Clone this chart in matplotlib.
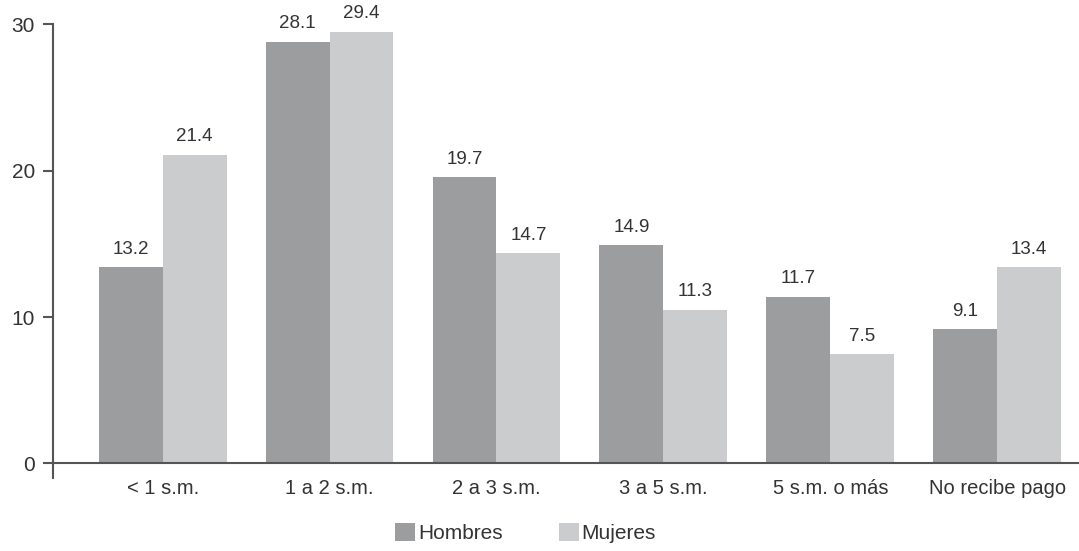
import matplotlib
matplotlib.use("Agg")
import matplotlib.pyplot as plt
import numpy as np

# Datos
categorias = ["< 1 s.m.", "1 a 2 s.m.", "2 a 3 s.m.", "3 a 5 s.m.", "5 s.m. o más", "No recibe pago"]
# alturas de las barras tal como aparecen en el gráfico
hombres = [13.4, 28.8, 19.55, 14.9, 11.4, 9.15]
mujeres = [21.1, 29.5, 14.35, 10.5, 7.45, 13.4]
# valores impresos encima de las barras
etiquetas_h = ["13.2", "28.1", "19.7", "14.9", "11.7", "9.1"]
etiquetas_m = ["21.4", "29.4", "14.7", "11.3", "7.5", "13.4"]
yticks = [0, 10, 20, 30]

col_h = "#9c9d9f"
col_m = "#cbcccd"
col_txt = "#333333"
col_eje = "#555555"

plt.rcParams['font.family'] = ['Liberation Sans', 'DejaVu Sans']

fig = plt.figure(figsize=(10.79, 5.51), dpi=100)
ax = fig.add_axes([53.3/1079, 1 - 477.7/551, 1 - 53.3/1079, (477.7 - 24.3)/551])

x = np.arange(len(categorias))
w = 0.383
bh = ax.bar(x - w/2, hombres, w, color=col_h, label="Hombres")
bm = ax.bar(x + w/2, mujeres, w, color=col_m, label="Mujeres")

for barras, textos in [(bh, etiquetas_h), (bm, etiquetas_m)]:
    for rect, txt in zip(barras, textos):
        ax.annotate(txt, (rect.get_x() + rect.get_width()/2, rect.get_height()),
                    xytext=(0, 7), textcoords="offset points", ha="center", va="bottom",
                    fontsize=13.5, color=col_txt, annotation_clip=False)

ax.set_xlim(-0.655, 5.49)
ax.set_ylim(-0.98, 30)
ax.set_yticks(yticks)
ax.set_xticks(x)
ax.set_xticklabels(categorias)

for s in ["top", "right"]:
    ax.spines[s].set_visible(False)
ax.spines["bottom"].set_position(("data", 0))
for s in ["left", "bottom"]:
    ax.spines[s].set_color(col_eje)
    ax.spines[s].set_linewidth(1.5)

ax.tick_params(axis="y", length=7.2, width=1.5, color=col_eje, pad=6, labelsize=15, labelcolor=col_txt)
ax.tick_params(axis="x", length=0, pad=11, labelsize=14.5, labelcolor=col_txt)

fig.legend(handles=[bh, bm], labels=["Hombres", "Mujeres"], loc="center left",
           bbox_to_anchor=(395/1079, 1 - 533/551), ncol=2, frameon=False, borderpad=0,
           borderaxespad=0, fontsize=15, handlelength=0.95, handleheight=0.95,
           handletextpad=0.15, columnspacing=2.7, labelcolor=col_txt)

plt.savefig("out.png", dpi=100)
